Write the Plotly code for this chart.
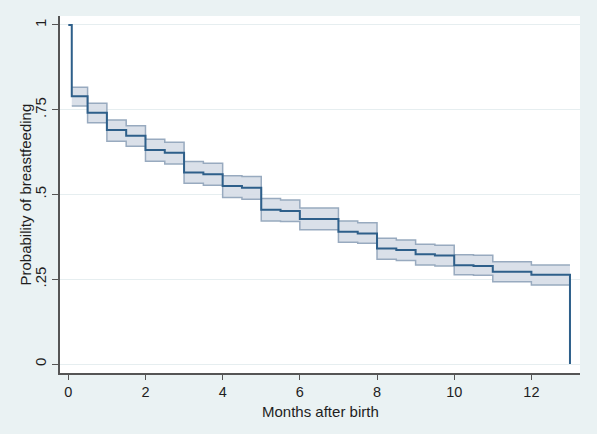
import plotly.graph_objects as go

# Kaplan-Meier estimate (months after birth) with 95% CI
times = [0, 0.09, 0.5, 1, 1.5, 2, 2.5, 3, 3.5, 4, 4.5, 5, 5.5, 6, 7, 7.5, 8, 8.5, 9, 9.5, 10, 10.5, 11, 12, 13]
surv = [1.0, 0.790, 0.741, 0.690, 0.673, 0.631, 0.623, 0.565, 0.560, 0.525, 0.520, 0.455, 0.451, 0.428,
        0.390, 0.385, 0.341, 0.336, 0.324, 0.320, 0.291, 0.289, 0.272, 0.263, 0.0]
ci_times = times[1:]
ci_upper = [0.816, 0.769, 0.720, 0.703, 0.663, 0.654, 0.597, 0.592, 0.555, 0.553, 0.488, 0.484, 0.460,
            0.422, 0.417, 0.371, 0.366, 0.353, 0.350, 0.322, 0.321, 0.302, 0.292, 0.292]
ci_lower = [0.761, 0.712, 0.657, 0.642, 0.598, 0.590, 0.533, 0.527, 0.491, 0.486, 0.422, 0.420, 0.396,
            0.359, 0.356, 0.309, 0.305, 0.292, 0.289, 0.263, 0.262, 0.243, 0.233, 0.233]

xticks = [0, 2, 4, 6, 8, 10, 12]
yticks = [0, 0.25, 0.5, 0.75, 1]
yticklabels = ["0", ".25", ".5", ".75", "1"]
x_title = "Months after birth"
y_title = "Probability of breastfeeding"

band_line = "#98AABF"
band_fill = "rgba(214,221,231,0.9)"
main_col = "#2E5F8A"
bg = "#EAF2F3"
font = "Liberation Sans, Arial, sans-serif"

fig = go.Figure()
fig.add_trace(go.Scatter(x=ci_times, y=ci_upper, mode="lines", line=dict(shape="hv", color=band_line, width=1.5),
                         hoverinfo="skip", showlegend=False))
fig.add_trace(go.Scatter(x=ci_times, y=ci_lower, mode="lines", line=dict(shape="hv", color=band_line, width=1.5),
                         fill="tonexty", fillcolor=band_fill, hoverinfo="skip", showlegend=False))
fig.add_trace(go.Scatter(x=times, y=surv, mode="lines", line=dict(shape="hv", color=main_col, width=2),
                         showlegend=False))

fig.update_layout(
    width=597, height=434,
    paper_bgcolor=bg, plot_bgcolor="white",
    margin=dict(l=60, r=17, t=16, b=61, autoexpand=False),
    font=dict(family=font, color="#1E1E1E"),
)
fig.update_xaxes(
    automargin=False,
    range=[-0.215, 13.26], tickvals=xticks, ticks="outside", ticklen=5, tickcolor="#555555",
    showline=True, linecolor="#555555", linewidth=1.5, showgrid=False, zeroline=False,
    tickfont=dict(size=14.5),
)
fig.update_yaxes(
    automargin=False,
    range=[-0.0265, 1.0265], tickvals=yticks, ticktext=yticklabels, tickangle=-90,
    ticks="outside", ticklen=6, tickcolor="#555555",
    showline=True, linecolor="#555555", linewidth=1.5, showgrid=True, gridcolor="#E6EEF0", gridwidth=1,
    zeroline=False, tickfont=dict(size=15),
)
fig.add_annotation(text=x_title, xref="paper", yref="paper", x=0.5, y=0, yshift=-38,
                   xanchor="center", yanchor="middle", showarrow=False, font=dict(size=15))
fig.add_annotation(text=y_title, xref="paper", yref="paper", x=0, y=0.5, xshift=-35, textangle=-90,
                   xanchor="center", yanchor="middle", showarrow=False, font=dict(size=15))

fig.write_html("out.html", config={"displayModeBar": False},
               post_script="document.body.style.margin='0';document.body.style.overflow='hidden';")
